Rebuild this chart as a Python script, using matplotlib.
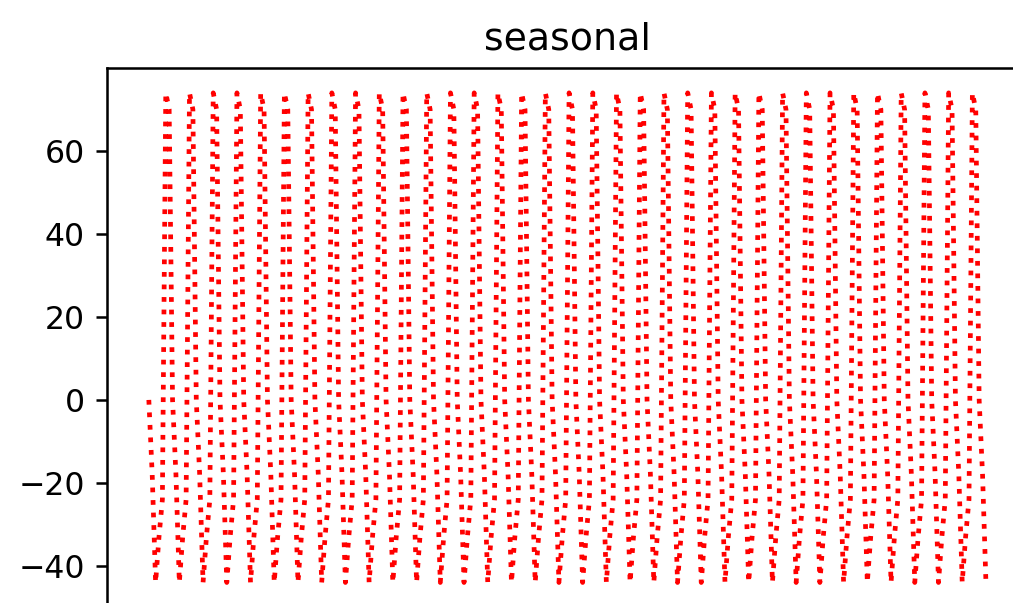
import numpy as np
import matplotlib.pyplot as plt

# weekly seasonal pattern (one value per day), repeated over the series
weekly_pattern = [0, -18, -44, -33, -24, 74, 70]
n_days = 248

seasonal = np.resize(weekly_pattern, n_days)
days = np.arange(n_days)

fig = plt.figure(figsize=(1013 / 227, 603 / 227), dpi=227)
ax = fig.add_axes([0.1056, -0.0066, 0.9090, 0.8932])

ax.plot(days, seasonal, color='r', linestyle=':')
ax.set_title("seasonal")

fig.savefig("out.png", dpi=227)
